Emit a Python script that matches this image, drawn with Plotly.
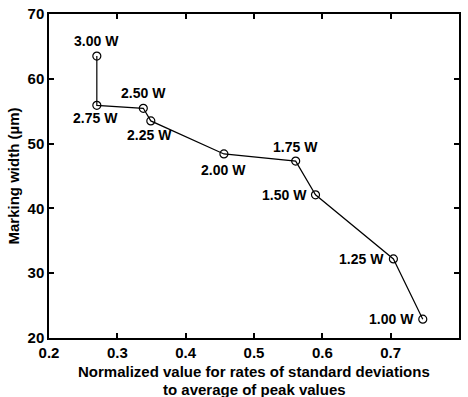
import plotly.graph_objects as go

# Laser power settings and the measured results
powers = ["1.00 W", "1.25 W", "1.50 W", "1.75 W", "2.00 W", "2.25 W", "2.50 W", "2.75 W", "3.00 W"]
norm_ratio = [0.747, 0.704, 0.590, 0.561, 0.456, 0.349, 0.338, 0.270, 0.270]
marking_width = [22.9, 32.2, 42.1, 47.3, 48.4, 53.5, 55.45, 55.9, 63.5]

# label placement for each point: (xanchor, yanchor, xshift, yshift)
label_place = {
    "1.00 W": ("right", "middle", -7, 0),
    "1.25 W": ("right", "middle", -7, 0),
    "1.50 W": ("right", "middle", -7, 0),
    "1.75 W": ("center", "bottom", 0, 4),
    "2.00 W": ("center", "top", 0, -6),
    "2.25 W": ("center", "top", -1, -4),
    "2.50 W": ("center", "bottom", 0, 5),
    "2.75 W": ("center", "top", -1, -3),
    "3.00 W": ("center", "bottom", 0, 5),
}

family = "Liberation Sans, Arial, sans-serif"
font_label = dict(family=family, size=14, color="black", weight="bold")
font_tick = dict(family=family, size=15, color="black", weight="bold")
font_title = dict(family=family, size=15, color="black", weight="bold")

fig = go.Figure()
fig.add_trace(go.Scatter(
    x=norm_ratio, y=marking_width,
    mode="lines+markers",
    line=dict(color="black", width=1.2),
    marker=dict(symbol="circle-open", size=8, color="black", line=dict(width=1.2)),
    showlegend=False,
))

for p, xv, yv in zip(powers, norm_ratio, marking_width):
    xa, ya, xs, ys = label_place[p]
    fig.add_annotation(x=xv, y=yv, text=p, showarrow=False,
                       xanchor=xa, yanchor=ya, xshift=xs, yshift=ys,
                       font=font_label)

# x-axis title drawn as two centred lines below the tick labels
x_title_lines = ["Normalized value for rates of standard deviations", "to average of peak values"]
for i, line in enumerate(x_title_lines):
    fig.add_annotation(x=0.5, xref="paper", y=0, yref="paper", yanchor="middle",
                       yshift=-33 - 18 * i, text=line, showarrow=False, font=font_title)

axis_common = dict(
    showline=True, linecolor="black", linewidth=1.5, mirror="ticks",
    ticks="inside", ticklen=5, tickcolor="black", tickwidth=1.5,
    showgrid=False, zeroline=False, tickfont=font_tick,
)

fig.update_xaxes(range=[0.2, 0.8], dtick=0.1, tickformat=".1f", automargin=False, **axis_common)
fig.update_yaxes(
    range=[20, 70], dtick=10, automargin=False,
    title=dict(text="Marking width (µm)", font=font_title, standoff=4),
    **axis_common,
)

fig.update_layout(
    width=468, height=397,
    margin=dict(l=49, r=9, t=14, b=59),
    plot_bgcolor="white", paper_bgcolor="white",
)

fig.write_html("out.html")
